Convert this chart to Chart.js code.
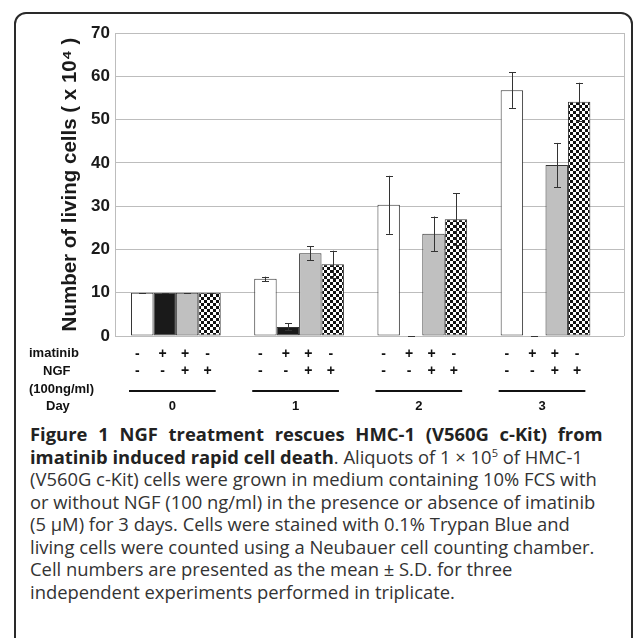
<!DOCTYPE html>
<html>
<head>
<meta charset="utf-8">
<script src="https://cdn.jsdelivr.net/npm/chart.js@4.4.0/dist/chart.umd.min.js"></script>
<style>
  html, body { margin: 0; padding: 0; background: #fff; }
  #wrap { position: relative; width: 633px; height: 638px; overflow: hidden; }
  #frame {
    position: absolute; left: 14px; top: 12px; width: 619px; height: 700px;
    border: 2px solid #2a2a2a; border-radius: 12px; box-sizing: border-box;
  }
  #chart { position: absolute; left: 0; top: 0; }
  #caption {
    position: absolute; left: 30px; top: 423px;
    font-family: "Open Sans", "Noto Sans", sans-serif;
    font-size: 18.4px; line-height: 22.5px; color: #333; white-space: nowrap;
  }
  #caption b { color: #222; }
  #caption .l1 { word-spacing: 6px; }
  #caption sup { font-size: 11px; line-height: 0; }
</style>
</head>
<body>
<div id="wrap">
  <div id="frame"></div>
  <canvas id="chart" width="633" height="420"></canvas>
  <div id="caption">
    <b class="l1">Figure 1 NGF treatment rescues HMC-1 (V560G c-Kit) from</b><br>
    <b>imatinib induced rapid cell death</b>. Aliquots of 1 × 10<sup>5</sup> of HMC-1<br>
    (V560G c-Kit) cells were grown in medium containing 10% FCS with<br>
    or without NGF (100 ng/ml) in the presence or absence of imatinib<br>
    (5 μM) for 3 days. Cells were stained with 0.1% Trypan Blue and<br>
    living cells were counted using a Neubauer cell counting chamber.<br>
    Cell numbers are presented as the mean ± S.D. for three<br>
    independent experiments performed in triplicate.
  </div>
</div>
<script>
// jours de culture
const days = [0, 1, 2, 3];
const dayLabels = ['0', '1', '2', '3'];

// conditions (imatinib / NGF)
const imatinibSigns = ['-', '+', '+', '-'];
const ngfSigns = ['-', '-', '+', '+'];

// moyennes (x 10^4 cellules)
const control = [10, 13.2, 30.3, 56.8];
const imatinib = [10, 2.1, 0, 0];
const imatinibNgf = [10, 19.1, 23.6, 39.5];
const ngfOnly = [10, 16.6, 27.0, 54.1];

// écarts-types
const controlSd = [0, 0.5, 6.7, 4.1];
const imatinibSd = [0, 0.8, 0, 0];
const imatinibNgfSd = [0, 1.6, 4.0, 5.1];
const ngfOnlySd = [0, 3.1, 6.0, 4.4];

const yTicks = [0, 10, 20, 30, 40, 50, 60, 70];

const font = '"Liberation Sans", Arial, sans-serif';

// motif damier pour la 4e série
function checker() {
    const c = document.createElement('canvas');
    c.width = 6; c.height = 6;
    const g = c.getContext('2d');
    g.fillStyle = '#fff';
    g.fillRect(0, 0, 6, 6);
    g.fillStyle = '#111';
    g.fillRect(0, 0, 3, 3);
    g.fillRect(3, 3, 3, 3);
    return g.createPattern(c, 'repeat');
}

const sds = [controlSd, imatinibSd, imatinibNgfSd, ngfOnlySd];

const extras = {
    id: 'extras',
    afterDatasetsDraw(chart) {
        const ctx = chart.ctx;
        const y = chart.scales.y;
        const area = chart.chartArea;
        ctx.save();
        // bord droit du cadre
        ctx.strokeStyle = '#bdbdbd';
        ctx.lineWidth = 1;
        ctx.beginPath();
        ctx.moveTo(Math.round(area.right) + 0.5, area.top);
        ctx.lineTo(Math.round(area.right) + 0.5, area.bottom);
        ctx.stroke();
        // barres d'erreur
        ctx.strokeStyle = '#333';
        chart.data.datasets.forEach((ds, i) => {
            const meta = chart.getDatasetMeta(i);
            meta.data.forEach((bar, j) => {
                const v = ds.data[j].y;
                const sd = sds[i][j];
                const x = Math.round(bar.x) + 0.5;
                const top = y.getPixelForValue(v + sd);
                const bottom = y.getPixelForValue(v - sd);
                ctx.beginPath();
                ctx.moveTo(x, top);
                ctx.lineTo(x, bottom);
                ctx.moveTo(x - 3.5, Math.round(top) + 0.5);
                ctx.lineTo(x + 3.5, Math.round(top) + 0.5);
                ctx.moveTo(x - 3.5, Math.round(bottom) + 0.5);
                ctx.lineTo(x + 3.5, Math.round(bottom) + 0.5);
                ctx.stroke();
            });
        });
        ctx.restore();
    },
    afterDraw(chart) {
        const ctx = chart.ctx;
        ctx.save();
        ctx.fillStyle = '#111';
        ctx.textBaseline = 'middle';
        ctx.font = 'bold 13px ' + font;
        ctx.textAlign = 'left';
        ctx.fillText('imatinib', 29, 353);
        ctx.fillText('NGF', 43, 371);
        ctx.fillText('(100ng/ml)', 29, 389);
        ctx.fillText('Day', 46, 406);

        const first = chart.getDatasetMeta(0).data;
        const last = chart.getDatasetMeta(3).data;
        days.forEach((d, j) => {
            ctx.textAlign = 'center';
            ctx.font = 'bold 14px ' + font;
            for (let i = 0; i < 4; i++) {
                const bar = chart.getDatasetMeta(i).data[j];
                const dx = i === 0 ? -5 : -2;
                ctx.fillText(imatinibSigns[i], bar.x + dx, 354);
                ctx.fillText(ngfSigns[i], bar.x + dx, 371);
            }
            const x0 = first[j].x - first[j].width / 2 - 2;
            const x1 = last[j].x + last[j].width / 2 - 5;
            ctx.strokeStyle = '#111';
            ctx.lineWidth = 2;
            ctx.beginPath();
            ctx.moveTo(x0, 391);
            ctx.lineTo(x1, 391);
            ctx.stroke();
            ctx.font = 'bold 13px ' + font;
            ctx.fillText(dayLabels[j], (x0 + x1) / 2, 406);
        });
        ctx.restore();
    }
};

const toPoints = arr => arr.map((v, j) => ({ x: days[j], y: v }));

const chart = new Chart(document.getElementById('chart'), {
    type: 'bar',
    data: {
        datasets: [
            { label: 'imatinib -, NGF -', data: toPoints(control), backgroundColor: '#fff' },
            { label: 'imatinib +, NGF -', data: toPoints(imatinib), backgroundColor: '#1a1a1a' },
            { label: 'imatinib +, NGF +', data: toPoints(imatinibNgf), backgroundColor: '#c0c0c0' },
            { label: 'imatinib -, NGF +', data: toPoints(ngfOnly), backgroundColor: checker() }
        ].map(ds => Object.assign(ds, {
            borderColor: '#333',
            borderWidth: 1,
            borderSkipped: false,
            categoryPercentage: 0.728,
            barPercentage: 1
        }))
    },
    options: {
        responsive: false,
        animation: false,
        layout: { padding: { left: 54, top: 33, right: 9, bottom: 84 } },
        plugins: {
            legend: { display: false },
            tooltip: { enabled: false }
        },
        scales: {
            x: {
                type: 'linear',
                display: false,
                offset: false,
                min: -0.494,
                max: 3.637,
                afterBuildTicks: s => { s.ticks = days.map(v => ({ value: v })); }
            },
            y: {
                min: 0,
                max: 70,
                afterFit: s => { s.width = 61; },
                afterBuildTicks: s => { s.ticks = yTicks.map(v => ({ value: v })); },
                grid: { color: '#bdbdbd', drawTicks: false },
                border: { color: '#bdbdbd' },
                ticks: {
                    padding: 5,
                    color: '#1a1a1a',
                    font: { family: font, size: 17, weight: 'bold' }
                },
                title: {
                    display: true,
                    text: 'Number of living cells ( x 10\u2074 )',
                    color: '#1a1a1a',
                    padding: { top: 4, bottom: 4 },
                    font: { family: font, size: 20.5, weight: 'bold' }
                }
            }
        }
    },
    plugins: [extras]
});
</script>
</body>
</html>
